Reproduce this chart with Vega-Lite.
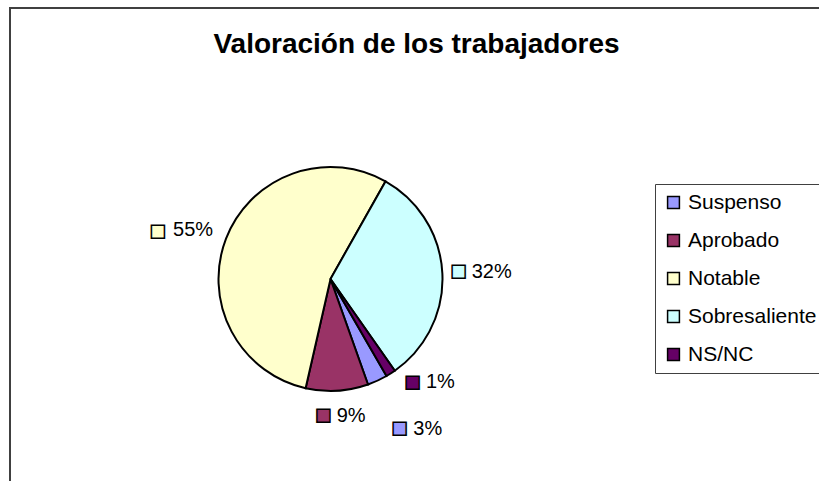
{
  "$schema": "https://vega.github.io/schema/vega-lite/v6.json",
  "width": 813,
  "height": 480,
  "autosize": {"type": "none"},
  "padding": {"left": 10, "top": 8, "right": 0, "bottom": 0},
  "background": "white",
  "view": {"stroke": "#404040", "strokeWidth": 2},
  "title": {
    "text": "Valoración de los trabajadores",
    "font": "Liberation Sans",
    "fontSize": 28,
    "fontWeight": "bold",
    "color": "black",
    "anchor": "middle",
    "frame": "group",
    "baseline": "alphabetic",
    "offset": -45,
    "dy": 28
  },
  "config": {
    "view": {"stroke": "#404040", "strokeWidth": 2},
    "legend": {
      "orient": "none",
      "legendX": 645,
      "legendY": 176,
      "strokeColor": "#404040",
      "fillColor": "white",
      "padding": 8,
      "labelFont": "Liberation Sans",
      "labelFontSize": 21,
      "labelColor": "black",
      "labelLimit": 300,
      "labelOffset": 4,
      "symbolType": "square",
      "symbolSize": 140,
      "symbolStrokeColor": "black",
      "symbolStrokeWidth": 1.5,
      "symbolOpacity": 1,
      "rowPadding": 16
    }
  },
  "data": {
    "values": [
      {"cat": "Suspenso", "value": 0.029, "ord": 1},
      {"cat": "Aprobado", "value": 0.090, "ord": 2},
      {"cat": "Notable", "value": 0.546, "ord": 3},
      {"cat": "Sobresaliente", "value": 0.321, "ord": 4},
      {"cat": "NS/NC", "value": 0.014, "ord": 5}
    ]
  },
  "encoding": {
    "theta": {"field": "value", "type": "quantitative", "stack": true, "scale": {"range": [2.618, 8.9012]}},
    "order": {"field": "ord", "type": "quantitative"}
  },
  "layer": [
    {
      "mark": {"type": "arc", "x": 320.5, "y": 271, "outerRadius": 112, "stroke": "black", "strokeWidth": 2},
      "encoding": {
        "color": {
          "field": "cat",
          "type": "nominal",
          "scale": {
            "domain": ["Suspenso", "Aprobado", "Notable", "Sobresaliente", "NS/NC"],
            "range": ["#9999FF", "#993366", "#FFFFCC", "#CCFFFF", "#660066"]
          },
          "legend": {"title": null}
        }
      }
    },
    {
      "mark": {
        "type": "text",
        "x": 320.5,
        "y": 271,
        "radius": 130,
        "text": "■",
        "font": "Liberation Sans",
        "fontSize": 27,
        "align": "center",
        "baseline": "middle",
        "stroke": "black",
        "strokeWidth": 1.5,
        "dx": {"expr": "datum.cat==='Suspenso'?14.5:datum.cat==='Aprobado'?-15:datum.cat==='Notable'?-51.5:datum.cat==='Sobresaliente'?-2:12"},
        "dy": {"expr": "datum.cat==='Suspenso'?32:datum.cat==='Aprobado'?7.5:datum.cat==='Notable'?-0.5:datum.cat==='Sobresaliente'?-0.5:-6"}
      },
      "encoding": {
        "color": {"field": "cat", "type": "nominal", "legend": null}
      }
    },
    {
      "mark": {
        "type": "text",
        "x": 320.5,
        "y": 271,
        "radius": 130,
        "font": "Liberation Sans",
        "fontSize": 20,
        "align": "left",
        "baseline": "middle",
        "color": "black",
        "dx": {"expr": "datum.cat==='Suspenso'?28.3:datum.cat==='Aprobado'?-1.4:datum.cat==='Notable'?-36.2:datum.cat==='Sobresaliente'?11.4:25.6"},
        "dy": {"expr": "datum.cat==='Suspenso'?31.8:datum.cat==='Aprobado'?7:datum.cat==='Notable'?-1.7:datum.cat==='Sobresaliente'?-0.9:-6.4"}
      },
      "encoding": {
        "text": {"field": "value", "type": "quantitative", "format": ".0%"}
      }
    }
  ]
}
